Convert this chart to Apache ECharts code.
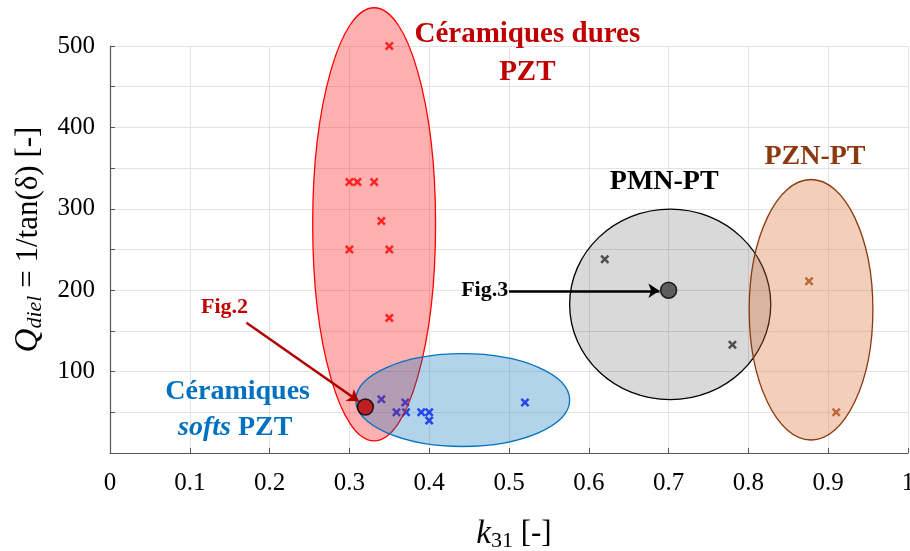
<!DOCTYPE html>
<html>
<head>
<meta charset="utf-8">
<script src="https://cdn.jsdelivr.net/npm/echarts@6/dist/echarts.min.js"></script>
<style>
  html, body { margin: 0; padding: 0; background: #fff; }
  #chart { width: 910px; height: 551px; }
</style>
</head>
<body>
<div id="chart"></div>
<script>
// measured points [k31, Qdiel]
const hardPZT = [[0.35, 500], [0.30, 333], [0.31, 333], [0.331, 333], [0.34, 285], [0.30, 250], [0.35, 250], [0.35, 166]];
const softPZT = [[0.34, 66], [0.37, 62], [0.359, 50], [0.371, 50], [0.39, 50], [0.40, 50], [0.40, 40], [0.52, 62]];
const pmnPT = [[0.62, 238], [0.78, 133]];
const pznPT = [[0.876, 211], [0.91, 50]];
const fig2Point = [0.32, 56.5];
const fig3Point = [0.70, 200];

// zones : [centre k31, centre Q, half width, half height]
const zoneHard = [0.331, 281, 0.077, 266];
const zoneSoft = [0.442, 65, 0.134, 57];
const zonePMN = [0.702, 182.5, 0.126, 117];
const zonePZN = [0.8785, 176, 0.0775, 160];

// arrows
const arrowFig2 = [[0.171, 160], [0.3116, 63.6]];
const arrowFig3 = [[0.5, 199.3], [0.6885, 199.3]];

// annotations anchors
const labelNames = ['Céramiques dures', 'PZT', 'PMN-PT', 'PZN-PT', 'Fig.2', 'Fig.3', 'Céramiques', '{i|softs} PZT'];
const labelPos = [[0.523, 513.5], [0.523, 467], [0.6945, 333], [0.8834, 364], [0.1436, 179.5], [0.4695, 199.5], [0.16, 75], [0.157, 31]];

const serif = 'Liberation Serif';
const CROSS = 'path://M0,2L2,0L5,3L8,0L10,2L7,5L10,8L8,10L5,7L2,10L0,8L3,5Z';

const zoneStyles = [
  { fill: 'rgba(255,0,0,0.31)', stroke: '#ff0000' },
  { fill: 'rgba(0,114,189,0.3)', stroke: '#0072bd' },
  { fill: 'rgba(0,0,0,0.15)', stroke: '#000000' },
  { fill: 'rgba(214,110,50,0.33)', stroke: '#8b3a0e' }
];
const labelStyles = [
  { color: '#c00000', size: 29 },
  { color: '#c00000', size: 29 },
  { color: '#000000', size: 28 },
  { color: '#8b3a0e', size: 28 },
  { color: '#c00000', size: 22 },
  { color: '#000000', size: 22 },
  { color: '#0070c0', size: 28 },
  { color: '#0070c0', size: 28 }
];

const chart = echarts.init(document.getElementById('chart'));

function crossSeries(data, color) {
  return {
    type: 'scatter',
    data: data,
    symbol: CROSS,
    symbolSize: 9,
    itemStyle: { color: color },
    z: 2,
    silent: true
  };
}

const option = {
  backgroundColor: '#fff',
  animation: false,
  grid: { left: 110, right: 2, top: 46, bottom: 98, containLabel: false, outerBoundsMode: 'none' },
  xAxis: {
    type: 'value',
    min: 0,
    max: 1,
    interval: 0.1,
    name: '{k|k}{sub|31} [-]',
    nameLocation: 'middle',
    nameGap: 63,
    nameTextStyle: {
      fontFamily: serif,
      fontSize: 31,
      color: '#000',
      padding: [0, 0, 0, 10],
      rich: {
        k: { fontFamily: serif, fontStyle: 'italic', fontSize: 33, color: '#000' },
        sub: { fontFamily: serif, fontSize: 22, color: '#000', padding: [14, 0, 0, 0] }
      }
    },
    axisLine: { show: true, onZero: false, lineStyle: { color: '#555', width: 1.2 } },
    axisTick: { show: true, inside: true, length: 5, lineStyle: { color: '#555' } },
    axisLabel: { fontFamily: serif, fontSize: 25, color: '#000', margin: 18 },
    splitLine: { show: true, lineStyle: { color: '#e4e4e4', width: 1 } }
  },
  yAxis: {
    type: 'value',
    min: 0,
    max: 500,
    interval: 50,
    name: '{q|Q}{sub|diel} = 1/tan(δ) [-]',
    nameLocation: 'middle',
    nameRotate: 90,
    nameGap: 52,
    nameTextStyle: {
      fontFamily: serif,
      fontSize: 31,
      color: '#000',
      padding: [0, 0, 0, 20],
      rich: {
        q: { fontFamily: serif, fontStyle: 'italic', fontSize: 33, color: '#000' },
        sub: { fontFamily: serif, fontStyle: 'italic', fontSize: 22, color: '#000', padding: [14, 0, 0, 0] }
      }
    },
    axisLine: { show: true, lineStyle: { color: '#555', width: 1.2 } },
    axisTick: { show: true, inside: true, length: 5, lineStyle: { color: '#555' } },
    axisLabel: {
      fontFamily: serif,
      fontSize: 25,
      color: '#000',
      margin: 15,
      formatter: v => (v > 0 && v % 100 === 0 ? String(v) : '')
    },
    splitLine: { show: true, lineStyle: { color: '#e4e4e4', width: 1 } }
  },
  series: [
    crossSeries(hardPZT, '#ff0000'),
    crossSeries(softPZT, '#0000ff'),
    crossSeries(pmnPT, '#333333'),
    crossSeries(pznPT, '#a0400a'),
    {
      type: 'custom',
      data: [zoneHard, zoneSoft, zonePMN, zonePZN],
      clip: false,
      silent: true,
      z: 3,
      renderItem: (params, api) => {
        const c = api.coord([api.value(0), api.value(1)]);
        const s = api.size([api.value(2), api.value(3)]);
        const st = zoneStyles[params.dataIndex];
        return {
          type: 'ellipse',
          shape: { cx: c[0], cy: c[1], rx: s[0], ry: s[1] },
          style: { fill: st.fill, stroke: st.stroke, lineWidth: 1.3 }
        };
      }
    },
    {
      type: 'lines',
      coordinateSystem: 'cartesian2d',
      z: 4,
      silent: true,
      symbol: ['none', 'arrow'],
      symbolSize: 11,
      data: [
        { coords: arrowFig2, lineStyle: { color: '#b00000', width: 2.5 } },
        { coords: arrowFig3, lineStyle: { color: '#000', width: 2.5 } }
      ],
      lineStyle: { opacity: 1, curveness: 0 }
    },
    {
      type: 'scatter',
      z: 5,
      silent: true,
      symbolSize: 16,
      data: [
        { value: fig2Point, itemStyle: { color: '#c00000', borderColor: '#000', borderWidth: 1.5 } },
        { value: fig3Point, itemStyle: { color: '#404040', borderColor: '#000', borderWidth: 1.5 } }
      ]
    },
    {
      type: 'custom',
      data: labelPos,
      clip: false,
      silent: true,
      z: 6,
      renderItem: (params, api) => {
        const p = api.coord([api.value(0), api.value(1)]);
        const st = labelStyles[params.dataIndex];
        return {
          type: 'text',
          style: {
            text: labelNames[params.dataIndex],
            x: p[0],
            y: p[1],
            align: 'center',
            verticalAlign: 'middle',
            fill: st.color,
            font: 'bold ' + st.size + 'px "' + serif + '"',
            rich: {
              i: { fontFamily: serif, fontWeight: 'bold', fontStyle: 'italic', fontSize: st.size, color: st.color }
            }
          }
        };
      }
    }
  ]
};

chart.setOption(option);
window.addEventListener('resize', () => chart.resize());
</script>
</body>
</html>
